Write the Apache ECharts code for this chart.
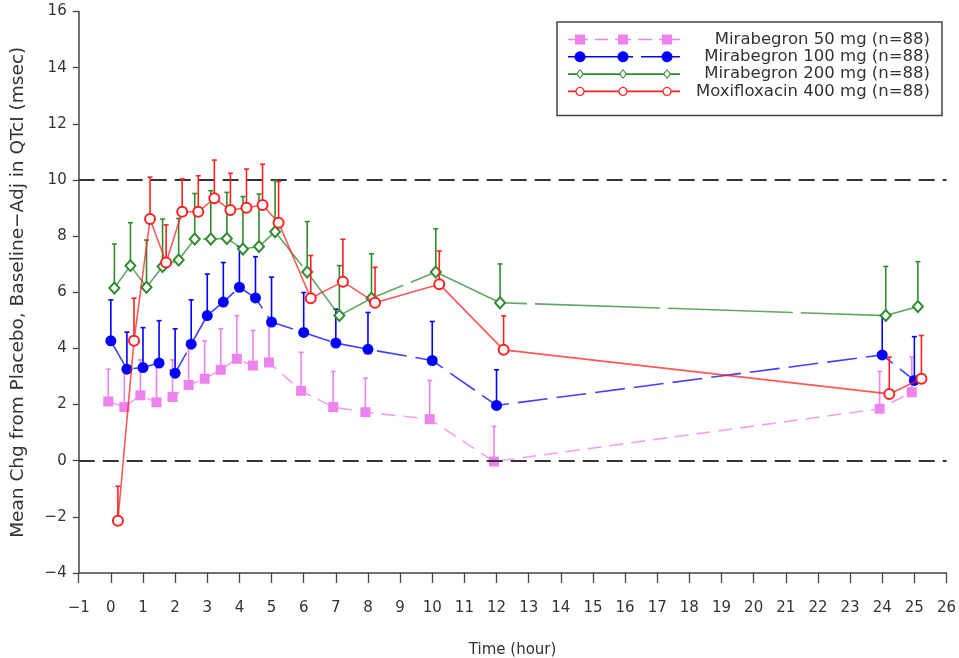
<!DOCTYPE html>
<html>
<head>
<meta charset="utf-8">
<script src="https://cdn.jsdelivr.net/npm/echarts@6/dist/echarts.min.js"></script>
<style>
html,body{margin:0;padding:0;background:#fff;}
#chart{width:959px;height:658px;}
</style>
</head>
<body>
<div id="chart"></div>
<script>
// ---- data ----
const times = [0, 0.5, 1, 1.5, 2, 2.5, 3, 3.5, 4, 4.5, 5, 6, 7, 8, 10, 12, 24, 25];
const seriesNames = ['Mirabegron 50 mg (n=88)', 'Mirabegron 100 mg (n=88)', 'Mirabegron 200 mg (n=88)', 'Moxifloxacin 400 mg (n=88)'];
// horizontal jitter of each treatment as plotted (hours)
const timeShift = [-0.08, 0, 0.11, 0.22];

const mira50Mean  = [2.11, 1.91, 2.33, 2.08, 2.27, 2.70, 2.92, 3.24, 3.63, 3.39, 3.50, 2.49, 1.91, 1.73, 1.48, -0.03, 1.85, 2.44];
const mira50Upper = [3.26, 3.20, 3.59, 3.45, 3.59, 4.27, 4.27, 4.70, 5.17, 4.64, 4.84, 3.86, 3.18, 2.94, 2.86, 1.22, 3.18, 3.69];

const mira100Mean  = [4.27, 3.26, 3.32, 3.48, 3.12, 4.15, 5.17, 5.65, 6.18, 5.80, 4.94, 4.57, 4.19, 3.97, 3.57, 1.97, 3.77, 2.86];
const mira100Upper = [5.73, 4.58, 4.74, 4.99, 4.70, 5.73, 6.65, 7.06, 7.63, 7.27, 6.54, 5.99, 5.40, 5.28, 4.96, 3.24, 5.17, 4.42];

const mira200Mean  = [6.15, 6.95, 6.18, 6.92, 7.15, 7.90, 7.90, 7.92, 7.54, 7.63, 8.16, 6.72, 5.17, 5.79, 6.72, 5.63, 5.17, 5.49];
const mira200Upper = [7.72, 8.48, 7.86, 8.61, 8.63, 9.52, 9.62, 9.56, 9.41, 9.50, 9.98, 8.52, 6.95, 7.37, 8.26, 7.01, 6.92, 7.09];

const moxiMean  = [-2.14, 4.27, 8.61, 7.06, 8.87, 8.87, 9.35, 8.93, 9.01, 9.11, 8.48, 5.79, 6.38, 5.63, 6.29, 3.95, 2.38, 2.92];
const moxiUpper = [-0.91, 5.79, 10.10, 8.40, 10.04, 10.15, 10.71, 10.24, 10.39, 10.56, 9.95, 7.31, 7.89, 6.89, 7.47, 5.16, 3.69, 4.46];

const referenceLines = [0, 10];
const xAxisRange = [-1, 26];
const yAxisRange = [-4, 16];

const means = [mira50Mean, mira100Mean, mira200Mean, moxiMean];
const uppers = [mira50Upper, mira100Upper, mira200Upper, moxiUpper];

// ---- styling ----
const colors = ['#ee82ee', '#0000ff', '#2e8b2e', '#ff2020'];
const FONT = 'DejaVu Sans';
const TEXT = '#333';

// ---- legend icons (line + three markers), 112 px wide ----
function rect(x0, y0, x1, y1) {
  return 'M' + x0 + ' ' + y0 + 'L' + x1 + ' ' + y0 + 'L' + x1 + ' ' + y1 + 'L' + x0 + ' ' + y1 + 'Z';
}
function poly(pts) {
  return 'M' + pts.map(p => p[0].toFixed(2) + ' ' + p[1].toFixed(2)).join('L') + 'Z';
}
function circlePts(cx, cy, r) {
  const pts = [];
  for (let k = 0; k < 24; k++) { const a = k / 24 * Math.PI * 2; pts.push([cx + r * Math.cos(a), cy + r * Math.sin(a)]); }
  return pts;
}
function ring(cx, cy, ro, ri) { return poly(circlePts(cx, cy, ro)) + poly(circlePts(cx, cy, ri).reverse()); }
function diamondPts(cx, cy, w, h) { return [[cx, cy - h], [cx + w, cy], [cx, cy + h], [cx - w, cy]]; }
const MX = [12, 55, 99];
const LW = 0.8;
function segs(list) { return list.map(s => rect(s[0], -LW, s[1], LW)).join(''); }

const iconPink = segs([[0, 20], [27, 40], [47, 63], [70, 84], [91, 112]]) + MX.map(x => rect(x - 5, -5, x + 5, 5)).join('');
const iconBlue = segs([[0, 65], [73, 112]]) + MX.map(x => poly(circlePts(x, 0, 5.5))).join('');
const iconGreen = segs([[0, 8.5], [15.5, 51.5], [58.5, 95.5], [102.5, 112]]) +
  MX.map(x => poly(diamondPts(x, 0, 4, 5)) + poly(diamondPts(x, 0, 2.6, 3.5).reverse())).join('');
const iconRed = segs([[0, 8], [16, 51], [59, 95], [103, 112]]) + MX.map(x => ring(x, 0, 4.6, 3.4)).join('');
const icons = [iconPink, iconBlue, iconGreen, iconRed];

// ---- series ----
const lineDefs = [
  { symbol: 'rect', symbolSize: 10, dash: [14, 8], empty: false },
  { symbol: 'circle', symbolSize: 11, dash: [30, 9], empty: false },
  { symbol: 'emptyDiamond', symbolSize: [10, 11], dash: [125, 8], empty: true },
  { symbol: 'emptyCircle', symbolSize: 10, dash: 'solid', empty: true }
];

const series = [];
seriesNames.forEach((name, s) => {
  const pts = times.map((t, i) => [t + timeShift[s], means[s][i]]);
  const bars = times.map((t, i) => [t + timeShift[s], means[s][i], uppers[s][i]]);
  const col = colors[s];
  series.push({
    type: 'custom',
    name: name,
    silent: true,
    z: 2 + s * 2,
    data: bars,
    encode: { x: 0, y: [1, 2] },
    renderItem: function (params, api) {
      const x = api.value(0), m = api.value(1), u = api.value(2);
      const p0 = api.coord([x, m]), p1 = api.coord([x, u]);
      return {
        type: 'group',
        children: [
          { type: 'line', shape: { x1: p0[0], y1: p0[1], x2: p1[0], y2: p1[1] }, style: { stroke: col, lineWidth: 1.6 } },
          { type: 'line', shape: { x1: p1[0] - 2.5, y1: p1[1], x2: p1[0] + 2.5, y2: p1[1] }, style: { stroke: col, lineWidth: 1.6 } }
        ]
      };
    }
  });
  const def = lineDefs[s];
  const ls = {
    type: 'line',
    name: name,
    silent: true,
    z: 3 + s * 2,
    data: pts,
    symbol: def.symbol,
    symbolSize: def.symbolSize,
    showAllSymbol: true,
    lineStyle: { color: col, width: 1.6, type: def.dash, opacity: 0.75 },
    itemStyle: def.empty ? { color: col, borderColor: col, borderWidth: 1.3 } : { color: col },
    emphasis: { disabled: true }
  };
  if (s === 0) {
    ls.markLine = {
      silent: true,
      symbol: 'none',
      label: { show: false },
      lineStyle: { color: '#333', type: [16, 8], width: 1.8 },
      data: referenceLines.map(v => ({ yAxis: v }))
    };
  }
  series.push(ls);
});

const chart = echarts.init(document.getElementById('chart'), null, { renderer: 'canvas' });
const minus = v => String(v).replace('-', '\u2212');

chart.setOption({
  animation: false,
  backgroundColor: '#fff',
  grid: { left: 78.7, right: 12.5, top: 11.6, bottom: 85, containLabel: false, outerBoundsMode: 'none' },
  legend: {
    orient: 'vertical',
    left: 557,
    top: 22,
    padding: [9, 12, 15.5, 11],
    itemGap: 0.3,
    itemWidth: 112,
    itemHeight: 12,
    backgroundColor: '#fff',
    borderColor: '#444',
    borderWidth: 1.5,
    borderRadius: 0,
    selectedMode: false,
    itemStyle: { borderWidth: 0 },
    data: seriesNames.map((n, s) => ({
      name: n,
      icon: 'path://' + icons[s],
      itemStyle: { color: colors[s], borderWidth: 0, opacity: 1 }
    })),
    formatter: n => '{t|' + n + '}',
    textStyle: {
      rich: { t: { width: 245, align: 'right', fontFamily: FONT, fontSize: 16.5, color: TEXT, lineHeight: 20 } }
    }
  },
  xAxis: {
    type: 'value',
    min: xAxisRange[0],
    max: xAxisRange[1],
    interval: 1,
    splitLine: { show: false },
    axisLine: { onZero: false, lineStyle: { color: '#444', width: 1.5 } },
    axisTick: { length: 10, lineStyle: { color: '#444', width: 1.3 } },
    axisLabel: { margin: 28, fontFamily: FONT, fontSize: 15, color: TEXT, formatter: minus, showMinLabel: true, showMaxLabel: true },
    name: 'Time (hour)',
    nameLocation: 'middle',
    nameGap: 70,
    nameTextStyle: { fontFamily: FONT, fontSize: 15, color: TEXT }
  },
  yAxis: {
    type: 'value',
    min: yAxisRange[0],
    max: yAxisRange[1],
    interval: 2,
    splitLine: { show: false },
    axisLine: { show: true, onZero: false, lineStyle: { color: '#444', width: 1.5 } },
    axisTick: { show: true, length: 6, lineStyle: { color: '#444', width: 1.3 } },
    axisLabel: { margin: 12, fontFamily: FONT, fontSize: 15, color: TEXT, formatter: minus },
    name: 'Mean Chg from Placebo, Baseline\u2212Adj in QTcI (msec)',
    nameLocation: 'middle',
    nameGap: 51,
    nameTextStyle: { fontFamily: FONT, fontSize: 18.5, color: TEXT }
  },
  series: series
});
</script>
</body>
</html>
